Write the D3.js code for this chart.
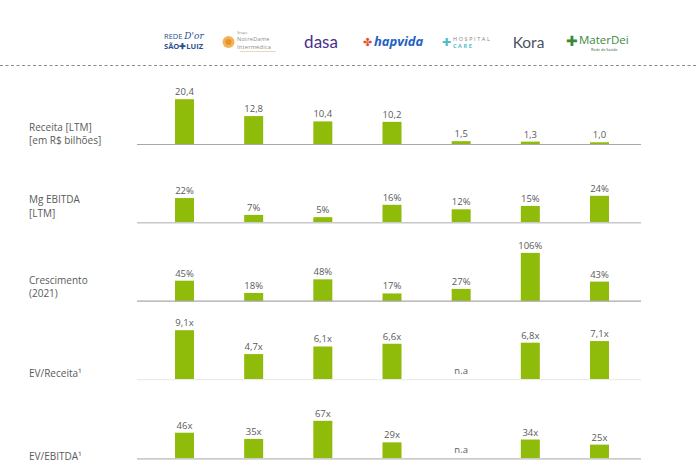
<!DOCTYPE html>
<html>
<head>
<meta charset="utf-8">
<script src="https://cdn.jsdelivr.net/npm/d3@7"></script>
<style>
  html, body { margin: 0; padding: 0; background: #fff; }
  svg { display: block; font-family: "Open Sans", "Noto Sans", sans-serif; }
</style>
</head>
<body>
<svg id="chart" width="698" height="474"></svg>
<script>
// ---- data ----
const companies = ["Rede D'Or São Luiz", "NotreDame Intermédica", "Dasa", "Hapvida", "Hospital Care", "Kora", "Mater Dei"];
const receita = [20.4, 12.8, 10.4, 10.2, 1.5, 1.3, 1.0];
const mgEbitda = [22, 7, 5, 16, 12, 15, 24];
const crescimento = [45, 18, 48, 17, 27, 106, 43];
const evReceita = [9.1, 4.7, 6.1, 6.6, null, 6.8, 7.1];
const evEbitda = [46, 35, 67, 29, null, 34, 25];
const rowLabels = [
  ["Receita [LTM]", "[em R$ bilhões]"],
  ["Mg EBITDA", "[LTM]"],
  ["Crescimento", "(2021)"],
  ["EV/Receita¹"],
  ["EV/EBITDA¹"]
];
const suffixes = ["", "%", "%", "x", "x"];
const decimals = [1, 0, 0, 1, 0];

// ---- layout ----
const svg = d3.select("#chart");
const barColor = "#8fbc0b";
const textColor = "#5a5a5a";

const x = d3.scalePoint().domain(companies).range([184.5, 599.5]);
const barW = 19;

const rows = [
  { values: receita,     base: 144.5, maxPx: 45.3, axis: "#a8a8a8", aw: 1.2, labelY: 127, lh: 13.6 },
  { values: mgEbitda,    base: 222.8, maxPx: 27.0, axis: "#c8c8c8", aw: 1.6, labelY: 199.5, lh: 13.6 },
  { values: crescimento, base: 301.2, maxPx: 48.3, axis: "#a8a8a8", aw: 1.2, labelY: 280.2, lh: 13.6 },
  { values: evReceita,   base: 379.6, maxPx: 49.4, axis: "#ececec", aw: 1.2, labelY: 373.5, lh: 13.6 },
  { values: evEbitda,    base: 458.8, maxPx: 38.0, axis: "#cccccc", aw: 1.8, labelY: 456, lh: 13.6 }
];

// dashed separator
svg.append("line")
  .attr("x1", 0).attr("x2", 698).attr("y1", 65.5).attr("y2", 65.5)
  .attr("stroke", "#8a8a8a").attr("stroke-width", 1).attr("stroke-dasharray", "3,2.5");

rows.forEach((r, i) => {
  const maxV = d3.max(r.values);
  const y = d3.scaleLinear().domain([0, maxV]).range([r.base, r.base - r.maxPx]);
  const g = svg.append("g");
  const fmt = v => v.toFixed(decimals[i]).replace(".", ",") + suffixes[i];

  g.selectAll("rect").data(companies.map((c, j) => ({ c, v: r.values[j] })).filter(d => d.v != null))
    .join("rect")
    .attr("x", d => x(d.c) - barW / 2)
    .attr("width", barW)
    .attr("y", d => y(d.v))
    .attr("height", d => y(0) - y(d.v))
    .attr("fill", barColor);

  g.append("line")
    .attr("x1", 137).attr("x2", 641)
    .attr("y1", r.base).attr("y2", r.base)
    .attr("stroke", r.axis).attr("stroke-width", r.aw);

  g.selectAll("text.val").data(companies.map((c, j) => ({ c, v: r.values[j] })))
    .join("text")
    .attr("class", "val")
    .attr("x", d => x(d.c))
    .attr("y", d => d.v == null ? r.base - 5.5 : y(d.v) - 4)
    .attr("text-anchor", "middle")
    .attr("font-size", 9.5)
    .attr("fill", textColor)
    .text(d => d.v == null ? "n.a" : fmt(d.v));

  rowLabels[i].forEach((line, k) => {
    g.append("text")
      .attr("x", 29)
      .attr("y", r.labelY + 3.5 + k * r.lh)
      .attr("font-size", 10)
      .attr("fill", textColor)
      .text(line);
  });
});

// ---- logos (text approximations) ----
const logos = svg.append("g");
// Rede D'Or São Luiz
logos.append("text").attr("x", 164).attr("y", 39).attr("font-size", 7.5).attr("fill", "#2c4f8e")
  .text("REDE ").append("tspan").attr("font-style", "italic").attr("font-family", "DejaVu Serif").attr("font-size", 9).text("D'or");
logos.append("text").attr("x", 164).attr("y", 49).attr("font-size", 7.5).attr("font-weight", "bold").attr("fill", "#2c4f8e").text("SÃO✚LUIZ");
// NotreDame Intermédica
logos.append("circle").attr("cx", 228.5).attr("cy", 42).attr("r", 6).attr("fill", "#f2b45a");
logos.append("circle").attr("cx", 228.5).attr("cy", 42).attr("r", 3).attr("fill", "#e8922c");
logos.append("text").attr("x", 237).attr("y", 34).attr("font-size", 3.5).attr("fill", "#888").text("Grupo");
logos.append("text").attr("x", 237).attr("y", 41.2).attr("font-size", 5.6).attr("letter-spacing", 0.25).attr("fill", "#8a8a8a").text("NotreDame");
logos.append("text").attr("x", 237).attr("y", 48.8).attr("font-size", 5.6).attr("letter-spacing", 0.25).attr("fill", "#8a8a8a").text("Intermédica");
logos.append("line").attr("x1", 240).attr("x2", 276).attr("y1", 51.5).attr("y2", 51.5).attr("stroke", "#e0cfa0").attr("stroke-width", 0.8);
// dasa
logos.append("text").attr("x", 321).attr("y", 48).attr("text-anchor", "middle").attr("font-size", 17).attr("fill", "#4a2f8f").attr("font-family", "Lato").text("dasa");
// hapvida
logos.append("text").attr("x", 367.5).attr("y", 46).attr("text-anchor", "middle").attr("font-size", 11).attr("fill", "#e2502a").text("✤");
logos.append("text").attr("x", 374).attr("y", 46).attr("font-size", 13).attr("font-weight", "bold").attr("font-style", "italic").attr("fill", "#2360c4").text("hapvida");
// Hospital Care
logos.append("text").attr("x", 446).attr("y", 46).attr("text-anchor", "middle").attr("font-size", 11).attr("fill", "#52bcc4").text("✚");
logos.append("text").attr("x", 453).attr("y", 40.5).attr("font-size", 5.5).attr("letter-spacing", 1.6).attr("fill", "#7a7f88").text("HOSPITAL");
logos.append("text").attr("x", 453).attr("y", 47.5).attr("font-size", 5.5).attr("letter-spacing", 1.6).attr("font-weight", "bold").attr("fill", "#52bcc4").text("CARE");
// Kora
logos.append("text").attr("x", 528.5).attr("y", 48).attr("text-anchor", "middle").attr("font-size", 15.5).attr("fill", "#4a5262").attr("font-family", "Lato").text("Kora");
// Mater Dei
logos.append("text").attr("x", 572).attr("y", 46).attr("text-anchor", "middle").attr("font-size", 14).attr("fill", "#3a8a3a").text("✚");
logos.append("text").attr("x", 579).attr("y", 44).attr("font-size", 11.5).attr("fill", "#3a8a3a").text("MaterDei");
logos.append("text").attr("x", 591).attr("y", 50.5).attr("font-size", 3.8).attr("fill", "#3a6a3a").text("Rede de Saúde");
</script>
</body>
</html>
